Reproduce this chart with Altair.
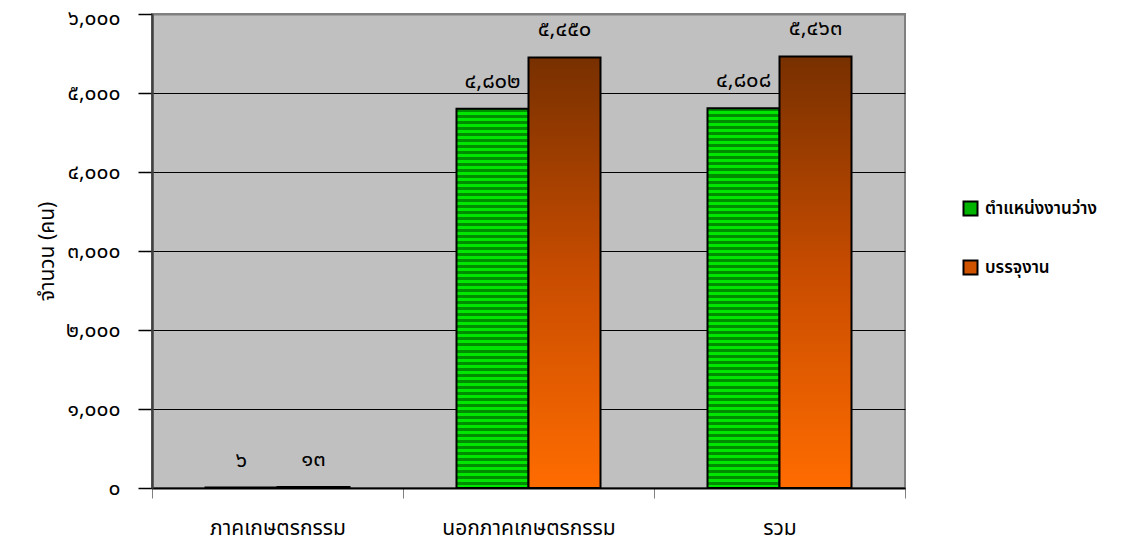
import altair as alt
import pandas as pd

categories = ["ภาคเกษตรกรรม", "นอกภาคเกษตรกรรม", "รวม"]
series = ["ตำแหน่งงานว่าง", "บรรจุงาน"]
vacancies = [6, 4802, 4808]
placements = [13, 5450, 5463]
y_ticks = [0, 1000, 2000, 3000, 4000, 5000, 6000]

THAI_DIGITS = "๐๑๒๓๔๕๖๗๘๙"


def thai(n):
    s = f"{n:,}"
    return "".join(THAI_DIGITS[int(c)] if c.isdigit() else c for c in s)


rows = []
for c, v, p in zip(categories, vacancies, placements):
    rows.append({"cat": c, "series": series[0], "value": v, "label": thai(v)})
    rows.append({"cat": c, "series": series[1], "value": p, "label": thai(p)})
df = pd.DataFrame(rows)

FONT = "Noto Sans Thai, Tahoma, DejaVu Sans, sans-serif"

# Thai digit label expression for the y axis
expr = "format(datum.value, ',')"
for d, t in enumerate(THAI_DIGITS):
    expr = f"replace({expr}, regexp('{d}', 'g'), '{t}')"

# striped green fill
N = 63
stops = []
for i in range(N):
    a, m, b = i / N, (i + 0.5) / N, (i + 1) / N
    stops += [
        alt.GradientStop(offset=a, color="#008c00"),
        alt.GradientStop(offset=m, color="#008c00"),
        alt.GradientStop(offset=m, color="#00e600"),
        alt.GradientStop(offset=b, color="#00e600"),
    ]
green_fill = alt.LinearGradient(gradient="linear", stops=stops, x1=0, x2=0, y1=0, y2=1)
orange_fill = alt.LinearGradient(
    gradient="linear",
    stops=[
        alt.GradientStop(offset=0, color="#783000"),
        alt.GradientStop(offset=0.5, color="#c84c00"),
        alt.GradientStop(offset=1, color="#ff6c00"),
    ],
    x1=0, x2=0, y1=0, y2=1,
)

x_enc = alt.X(
    "cat:N",
    sort=categories,
    scale=alt.Scale(paddingInner=0, paddingOuter=0),
    axis=alt.Axis(
        title=None, tickBand="extent", labelAngle=0, labelPadding=19,
        tickSize=10, tickColor="#808080", tickWidth=1,
        domainColor="black", domainWidth=2,
        labelFontSize=21, labelFont=FONT, labelColor="black",
    ),
)
xoff_enc = alt.XOffset(
    "series:N", sort=series,
    scale=alt.Scale(domain=series, paddingInner=0, paddingOuter=0.743),
)
y_enc = alt.Y(
    "value:Q",
    scale=alt.Scale(domain=[0, 6000], nice=False),
    axis=alt.Axis(
        values=y_ticks, labelExpr=expr,
        title="จำนวน (คน)", titleFont=FONT, titleFontSize=21, titleFontWeight="normal",
        titlePadding=8, titleColor="black",
        labelFont=FONT, labelFontSize=21, labelPadding=18, labelColor="black",
        labelOffset=alt.condition("datum.value == 6000", alt.value(4), alt.value(0)),
        tickSize=14, tickColor="black", tickWidth=1.5,
        domainColor="#404040", domainWidth=2.5,
        grid=True,
        gridColor=alt.condition("datum.value == 6000", alt.value("#808080"), alt.value("black")),
        gridWidth=alt.condition("datum.value == 6000", alt.value(2), alt.value(1)),
    ),
)

base = alt.Chart(df)

green = base.transform_filter(alt.datum.series == series[0]).mark_bar(
    fill=green_fill, stroke="black", strokeWidth=2
).encode(x=x_enc, xOffset=xoff_enc, y=y_enc)

orange = base.transform_filter(alt.datum.series == series[1]).mark_bar(
    fill=orange_fill, stroke="black", strokeWidth=2
).encode(x=x_enc, xOffset=xoff_enc, y=y_enc)

labels = base.mark_text(
    dy=-28, fontSize=22, font=FONT, color="black", baseline="middle"
).encode(x=x_enc, xOffset=xoff_enc, y=y_enc, text="label:N")

legend_layer = base.transform_filter("false").mark_square(opacity=1, filled=True).encode(
    x=x_enc, y=y_enc,
    color=alt.Color(
        "series:N",
        scale=alt.Scale(domain=series, range=["#00b400", "#d05400"]),
        legend=alt.Legend(
            title=None, orient="none", legendX=810, legendY=186,
            symbolType="square", symbolSize=196, symbolStrokeColor="black",
            symbolStrokeWidth=2, labelFont=FONT, labelFontSize=17,
            labelFontWeight=600, labelColor="black", rowPadding=36,
            labelOffset=6,
        ),
    ),
)

chart = alt.layer(green, orange, labels, legend_layer).properties(
    width=753, height=474,
    autosize=alt.AutoSizeParams(type="none"),
    padding={"left": 144, "top": 6, "right": 221, "bottom": 57},
).configure_view(
    fill="#c0c0c0", stroke="#808080", strokeWidth=2
)

chart.save("out.html", embed_options={"renderer": "svg", "actions": False})
